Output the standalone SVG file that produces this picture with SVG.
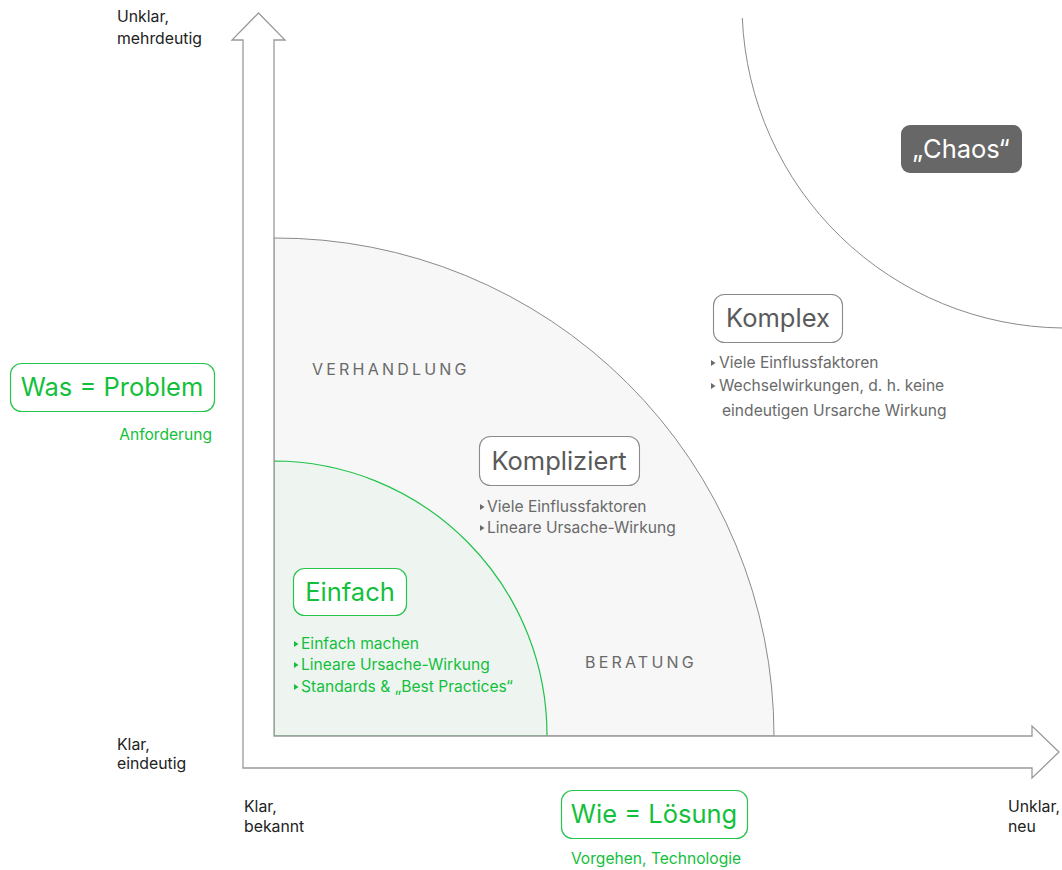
<svg xmlns="http://www.w3.org/2000/svg" width="1062" height="870" viewBox="0 0 1062 870">
  <style>
    text { font-family: Inter, "Liberation Sans", Arial, sans-serif; }
    .axis { fill: #ffffff; stroke: #9a9a9a; stroke-width: 1.3; stroke-linejoin: miter; }
    .zone-grey { fill: #f7f7f7; stroke: #8a8a8a; stroke-width: 1; }
    .zone-green { fill: #eef5f1; stroke: #22c24a; stroke-width: 1.2; }
    .chaos-arc { fill: none; stroke: #8a8a8a; stroke-width: 1; }
    .box-green { fill: #ffffff; stroke: #27c44e; stroke-width: 1.2; }
    .box-grey { fill: #ffffff; stroke: #8a8a8a; stroke-width: 1.1; }
    .box-dark { fill: #676767; stroke: none; }
    .title-green { fill: #14bf3c; font-size: 25.5px; text-anchor: middle; }
    .title-grey { fill: #5a5a5a; font-size: 25.5px; text-anchor: middle; }
    .title-white { fill: #ffffff; font-size: 25.5px; text-anchor: middle; }
    .body-green { fill: #14bf3c; font-size: 15.6px; }
    .body-grey { fill: #6a6a6a; font-size: 15.6px; }
    .caps { fill: #6a6a6a; font-size: 16px; letter-spacing: 3.2px; }
    .axis-label { fill: #222222; font-size: 15.8px; }
    .bul-green { fill: #14bf3c; }
    .bul-grey { fill: #6a6a6a; }
  </style>
  <defs>
    <polygon id="bullet" points="0,-3 4.5,0 0,3"/>
  </defs>

  <rect width="1062" height="870" fill="#ffffff"/>

  <!-- zones: quarter circles anchored at the axis origin -->
  <g id="zone-kompliziert">
    <path class="zone-grey" d="M274,736 L274,238 A498,498 0 0 1 774,736 Z"/>
  </g>
  <g id="zone-einfach">
    <path class="zone-green" d="M274,736 L274,461 A274,274 0 0 1 547,736 Z"/>
  </g>
  <g id="zone-chaos">
    <path class="chaos-arc" d="M742.3,18 A324,324 0 0 0 1062,328"/>
  </g>

  <!-- connectors: the L-shaped double arrow forming both axes -->
  <g id="connectors">
    <path class="axis" d="M243,768 L243,40 L232,40 L258.5,13 L285,40 L274,40 L274,736 L1032,736 L1032,726 L1059,752 L1032,778 L1032,768 Z"/>
  </g>

  <!-- axis labels -->
  <g id="label-y-top">
    <text class="axis-label" x="117" y="22">Unklar,</text>
    <text class="axis-label" x="117" y="44">mehrdeutig</text>
  </g>
  <g id="label-y-bottom">
    <text class="axis-label" x="117" y="750">Klar,</text>
    <text class="axis-label" x="117" y="769">eindeutig</text>
  </g>
  <g id="label-x-left">
    <text class="axis-label" x="244" y="812">Klar,</text>
    <text class="axis-label" x="244" y="832">bekannt</text>
  </g>
  <g id="label-x-right">
    <text class="axis-label" x="1008" y="812">Unklar,</text>
    <text class="axis-label" x="1008" y="832">neu</text>
  </g>

  <!-- axis titles -->
  <g id="node-was">
    <rect class="box-green" x="10.5" y="363.5" width="204" height="48" rx="11"/>
    <text class="title-green" x="112" y="396">Was = Problem</text>
    <text class="body-green" x="212" y="440" text-anchor="end">Anforderung</text>
  </g>
  <g id="node-wie">
    <rect class="box-green" x="561.5" y="790.5" width="186" height="48" rx="11"/>
    <text class="title-green" x="654" y="823">Wie = Lösung</text>
    <text class="body-green" x="656" y="864" text-anchor="middle">Vorgehen, Technologie</text>
  </g>

  <!-- zone captions -->
  <g id="caption-verhandlung">
    <text class="caps" x="312" y="375">VERHANDLUNG</text>
  </g>
  <g id="caption-beratung">
    <text class="caps" x="585" y="668">BERATUNG</text>
  </g>

  <!-- domains -->
  <g id="node-einfach">
    <rect class="box-green" x="293.5" y="568.5" width="113" height="47" rx="11"/>
    <text class="title-green" x="350" y="601">Einfach</text>
    <use href="#bullet" class="bul-green" x="294" y="644"/>
    <use href="#bullet" class="bul-green" x="294" y="665"/>
    <use href="#bullet" class="bul-green" x="294" y="687"/>
    <text class="body-green" x="301" y="649">Einfach machen</text>
    <text class="body-green" x="301" y="670">Lineare Ursache-Wirkung</text>
    <text class="body-green" x="301" y="692">Standards &amp; „Best Practices“</text>
  </g>
  <g id="node-kompliziert">
    <rect class="box-grey" x="479.5" y="436.5" width="160" height="49" rx="11"/>
    <text class="title-grey" x="559" y="470">Kompliziert</text>
    <use href="#bullet" class="bul-grey" x="480" y="507"/>
    <use href="#bullet" class="bul-grey" x="480" y="528"/>
    <text class="body-grey" x="487" y="512">Viele Einflussfaktoren</text>
    <text class="body-grey" x="487" y="533">Lineare Ursache-Wirkung</text>
  </g>
  <g id="node-komplex">
    <rect class="box-grey" x="713.5" y="294.5" width="129" height="48" rx="11"/>
    <text class="title-grey" x="778" y="327">Komplex</text>
    <use href="#bullet" class="bul-grey" x="711" y="363"/>
    <use href="#bullet" class="bul-grey" x="711" y="386"/>
    <text class="body-grey" x="719" y="368">Viele Einflussfaktoren</text>
    <text class="body-grey" x="719" y="391">Wechselwirkungen, d. h. keine</text>
    <text class="body-grey" x="722" y="416">eindeutigen Ursarche Wirkung</text>
  </g>
  <g id="node-chaos">
    <rect class="box-dark" x="901" y="125" width="121" height="48" rx="9"/>
    <text class="title-white" x="961" y="158">„Chaos“</text>
  </g>
</svg>
